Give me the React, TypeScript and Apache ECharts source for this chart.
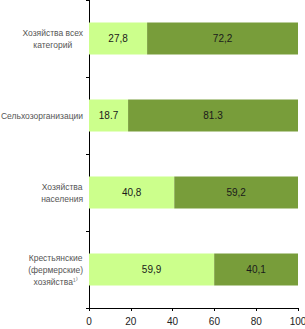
import React, { useEffect, useRef } from "react";
import * as echarts from "echarts";

const categories = [
  "{c|Хозяйства всех}\n{c|категорий}",
  "{c|Сельхозорганизации}",
  "{c|Хозяйства}\n{c|населения}",
  "{c|Крестьянские}\n{c|(фермерские)}\n{c|хозяйства}{s|¹⁾}",
];
const lightValues = [27.8, 18.7, 40.8, 59.9];
const darkValues = [72.2, 81.3, 59.2, 40.1];
const lightLabels = ["27,8", "18.7", "40,8", "59,9"];
const darkLabels = ["72,2", "81.3", "59,2", "40,1"];
const xTicks = [0, 20, 40, 60, 80, 100];

export default function App() {
  const ref = useRef<HTMLDivElement>(null);
  useEffect(() => {
    if (!ref.current) return;
    const chart = echarts.init(ref.current, undefined, { renderer: "svg" });
    const font = "'Liberation Sans', Arial, sans-serif";
    chart.setOption({
      animation: false,
      grid: { left: 89, right: 7, top: 0, bottom: 21, containLabel: false, outerBoundsMode: "none" },
      xAxis: {
        type: "value",
        min: xTicks[0],
        max: xTicks[xTicks.length - 1],
        interval: 20,
        splitLine: { show: false },
        axisLine: { show: true, lineStyle: { color: "#000", width: 1 } },
        axisTick: { show: true, length: 3, lineStyle: { color: "#000" } },
        axisLabel: { fontSize: 10, color: "#222", fontFamily: font, margin: 8 },
      },
      yAxis: {
        type: "category",
        inverse: true,
        data: categories,
        axisLine: { show: true, lineStyle: { color: "#000", width: 1 } },
        axisTick: { show: true, length: 3, lineStyle: { color: "#000" } },
        axisLabel: {
          align: "right",
          margin: 6,
          fontFamily: font,
          fontSize: 8.5,
          color: "#555",
          rich: {
            c: { align: "center", fontSize: 8.5, color: "#555", fontFamily: font, lineHeight: 12 },
            s: { align: "center", fontSize: 8, color: "#777", fontFamily: font, lineHeight: 12 },
          },
        },
      },
      series: [
        {
          type: "bar",
          stack: "a",
          barWidth: 32,
          data: lightValues,
          itemStyle: { color: "#ccff8c" },
          label: {
            show: true,
            position: "inside",
            fontSize: 10,
            fontFamily: font,
            color: "#1a1a1a",
            formatter: (p: any) => lightLabels[p.dataIndex],
          },
        },
        {
          type: "bar",
          stack: "a",
          barWidth: 32,
          data: darkValues,
          itemStyle: { color: "#789d3a" },
          label: {
            show: true,
            position: "inside",
            fontSize: 10,
            fontFamily: font,
            color: "#1a1a1a",
            formatter: (p: any) => darkLabels[p.dataIndex],
          },
        },
      ],
    });
    return () => chart.dispose();
  }, []);
  return <div ref={ref} style={{ width: 305, height: 329, position: "absolute", left: 0, top: 0 }} />;
}
